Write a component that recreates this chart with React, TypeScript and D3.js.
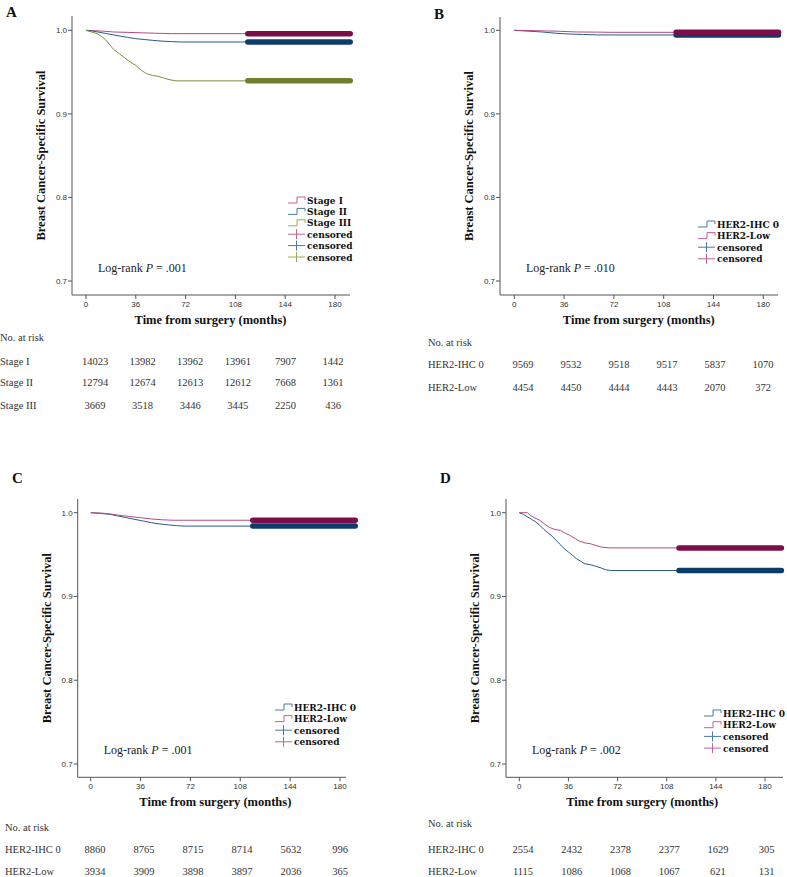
import React from "react";
import * as d3 from "d3";

// ---------- data ----------
const xTickMonths = [0, 36, 72, 108, 144, 180];
const yTickValues = [0.7, 0.8, 0.9, 1.0];

// Panel A: stage
const aStageI: [number, number][] = [[0, 1], [6, 0.9995], [12, 0.999], [20, 0.998], [30, 0.9975], [40, 0.997], [50, 0.9965], [62, 0.996], [191, 0.996]];
const aStageII: [number, number][] = [[0, 1], [5, 0.999], [10, 0.9975], [15, 0.996], [20, 0.9945], [25, 0.993], [30, 0.9915], [36, 0.99], [42, 0.989], [48, 0.988], [55, 0.987], [62, 0.9865], [68, 0.986], [191, 0.986]];
const aStageIII: [number, number][] = [[0, 1], [4, 0.998], [8, 0.996], [11, 0.993], [14, 0.989], [17, 0.983], [20, 0.977], [24, 0.972], [28, 0.967], [32, 0.962], [36, 0.958], [40, 0.952], [44, 0.948], [48, 0.946], [52, 0.945], [56, 0.943], [60, 0.941], [65, 0.9395], [191, 0.9395]];
const aRiskStageI = [14023, 13982, 13962, 13961, 7907, 1442];
const aRiskStageII = [12794, 12674, 12613, 12612, 7668, 1361];
const aRiskStageIII = [3669, 3518, 3446, 3445, 2250, 436];

// Panel B
const bIHC0: [number, number][] = [[0, 1], [10, 0.999], [20, 0.998], [30, 0.9965], [40, 0.9955], [50, 0.995], [60, 0.9945], [70, 0.9944], [191, 0.9944]];
const bLow: [number, number][] = [[0, 1], [15, 0.9995], [30, 0.999], [45, 0.998], [60, 0.9978], [70, 0.9976], [191, 0.9976]];
const bRiskIHC0 = [9569, 9532, 9518, 9517, 5837, 1070];
const bRiskLow = [4454, 4450, 4444, 4443, 2070, 372];

// Panel C
const cIHC0: [number, number][] = [[0, 1], [8, 0.999], [14, 0.998], [20, 0.996], [26, 0.994], [32, 0.992], [38, 0.99], [44, 0.988], [50, 0.9865], [56, 0.9855], [62, 0.9845], [68, 0.984], [191, 0.984]];
const cLow: [number, number][] = [[0, 1], [8, 0.9995], [14, 0.9985], [20, 0.997], [28, 0.9955], [36, 0.994], [44, 0.9925], [52, 0.9915], [60, 0.991], [191, 0.991]];
const cRiskIHC0 = [8860, 8765, 8715, 8714, 5632, 996];
const cRiskLow = [3934, 3909, 3898, 3897, 2036, 365];

// Panel D
const dIHC0: [number, number][] = [[0, 1], [3, 0.998], [6, 0.995], [9, 0.992], [12, 0.989], [15, 0.985], [18, 0.98], [21, 0.976], [24, 0.972], [27, 0.967], [30, 0.962], [33, 0.957], [36, 0.953], [39, 0.949], [42, 0.945], [45, 0.942], [48, 0.939], [52, 0.938], [56, 0.936], [60, 0.934], [63, 0.932], [67, 0.931], [192, 0.931]];
const dLow: [number, number][] = [[0, 1], [6, 1], [8, 0.997], [11, 0.994], [15, 0.991], [18, 0.987], [22, 0.9825], [26, 0.98], [30, 0.979], [33, 0.976], [37, 0.973], [41, 0.969], [44, 0.966], [48, 0.964], [52, 0.963], [56, 0.961], [60, 0.959], [66, 0.958], [192, 0.958]];
const dRiskIHC0 = [2554, 2432, 2378, 2377, 1629, 305];
const dRiskLow = [1115, 1086, 1068, 1067, 621, 131];

const censorStart = 117;

// ---------- styles ----------
const COL = {
  pink: { line: "#b54a80", band: "#7b0d4b", legend: "#c0609a" },
  blue: { line: "#2c5a8c", band: "#0b3c6a", legend: "#4a78a8" },
  green: { line: "#7d8f3a", band: "#6f7f2a", legend: "#9aaa55" },
};

type Series = { data: [number, number][]; color: keyof typeof COL };
type LegendItem = { label: string; color: keyof typeof COL; kind: "step" | "cens" };
type RiskRow = { label: string; values: number[] };

type PanelCfg = {
  letter: string;
  letterX: number;
  letterY: number;
  axisLeft: number;
  axisTop: number;
  axisBottom: number;
  axisRight: number;
  x0: number;
  x180: number;
  y1: number;
  y07: number;
  series: Series[];
  legend: LegendItem[];
  legendX: number;
  legendY: number;
  legendStep: number;
  pText: string;
  risk: RiskRow[];
  rowLabelX: number;
  colFirst: number;
  colLast: number;
  headerY: number;
  rowYs: number[];
};

const SERIF = "'Liberation Serif', 'Times New Roman', serif";
const LEG = "'DejaVu Serif', serif";
const SANS = "'Liberation Sans', Arial, sans-serif";

function Panel({ c }: { c: PanelCfg }) {
  const x = d3.scaleLinear().domain([0, 180]).range([c.x0, c.x180]);
  const y = d3.scaleLinear().domain([0.7, 1.0]).range([c.y07, c.y1]);
  const line = d3
    .line<[number, number]>()
    .x((d) => x(d[0]))
    .y((d) => y(d[1]))
    .curve(d3.curveLinear);
  const col = d3.scaleLinear().domain([0, 5]).range([c.colFirst, c.colLast]);
  const yMid = (c.axisTop + c.axisBottom) / 2;
  return (
    <g>
      <text x={c.letterX} y={c.letterY} fontFamily={SERIF} fontWeight="bold" fontSize={15} fill="#111">
        {c.letter}
      </text>
      {/* axes */}
      <line x1={c.axisLeft} x2={c.axisLeft} y1={c.axisTop} y2={c.axisBottom} stroke="#555" strokeWidth={1} />
      <line x1={c.axisLeft} x2={c.axisRight} y1={c.axisBottom} y2={c.axisBottom} stroke="#555" strokeWidth={1} />
      {yTickValues.map((v) => (
        <g key={v}>
          <line x1={c.axisLeft - 4} x2={c.axisLeft} y1={y(v)} y2={y(v)} stroke="#555" />
          <text x={c.axisLeft - 5} y={y(v) + 2.8} textAnchor="end" fontFamily={SANS} fontSize={8} fill="#333">
            {v.toFixed(1)}
          </text>
        </g>
      ))}
      {xTickMonths.map((m) => (
        <g key={m}>
          <line x1={x(m)} x2={x(m)} y1={c.axisBottom} y2={c.axisBottom + 4} stroke="#555" />
          <text x={x(m)} y={c.axisBottom + 12} textAnchor="middle" fontFamily={SANS} fontSize={8} fill="#333">
            {m}
          </text>
        </g>
      ))}
      <text
        transform={`translate(${c.axisLeft - 27},${yMid}) rotate(-90)`}
        textAnchor="middle"
        fontFamily={SERIF}
        fontWeight="bold"
        fontSize={12.5}
        fill="#111"
      >
        Breast Cancer-Specific Survival
      </text>
      <text x={x(90)} y={c.axisBottom + 29} textAnchor="middle" fontFamily={SERIF} fontWeight="bold" fontSize={12.5} fill="#111">
        Time from surgery (months)
      </text>
      {/* curves */}
      {c.series.map((s, i) => (
        <path key={"l" + i} d={line(s.data) || ""} fill="none" stroke={COL[s.color].line} strokeWidth={1} />
      ))}
      {c.series.map((s, i) => {
        const last = s.data[s.data.length - 1];
        return (
          <line
            key={"b" + i}
            x1={x(censorStart)}
            x2={x(last[0])}
            y1={y(last[1])}
            y2={y(last[1])}
            stroke={COL[s.color].band}
            strokeWidth={5.5}
            strokeLinecap="round"
          />
        );
      })}
      {/* legend */}
      {c.legend.map((it, i) => {
        const ly = c.legendY + i * c.legendStep;
        const lx = c.legendX;
        const clr = COL[it.color].legend;
        return (
          <g key={"g" + i}>
            {it.kind === "step" ? (
              <path d={`M${lx},${ly + 3} H${lx + 9} V${ly - 3} H${lx + 17} V${ly}`} fill="none" stroke={clr} strokeWidth={1} />
            ) : (
              <g>
                <line x1={lx} x2={lx + 17} y1={ly} y2={ly} stroke={clr} />
                <line x1={lx + 8.5} x2={lx + 8.5} y1={ly - 5} y2={ly + 5} stroke={clr} />
              </g>
            )}
            <text x={lx + 19} y={ly + 3.5} fontFamily={LEG} fontWeight="bold" fontSize={9} fill="#111">
              {it.label}
            </text>
          </g>
        );
      })}
      <text x={c.axisLeft + 26} y={c.axisBottom - 23} fontFamily={SERIF} fontSize={12} fill="#222">
        Log-rank <tspan fontStyle="italic">P</tspan> = {c.pText}
      </text>
      {/* risk table */}
      <text x={c.rowLabelX} y={c.headerY} fontFamily={SERIF} fontSize={10.5} fill="#333">
        No. at risk
      </text>
      {c.risk.map((r, ri) => (
        <g key={"r" + ri}>
          <text x={c.rowLabelX} y={c.rowYs[ri]} fontFamily={SERIF} fontSize={10.5} fill="#333">
            {r.label}
          </text>
          {r.values.map((v, vi) => (
            <text key={vi} x={col(vi)} y={c.rowYs[ri]} textAnchor="middle" fontFamily={SERIF} fontSize={10.5} fill="#333">
              {v}
            </text>
          ))}
        </g>
      ))}
    </g>
  );
}

const her2Legend: LegendItem[] = [
  { label: "HER2-IHC 0", color: "blue", kind: "step" },
  { label: "HER2-Low", color: "pink", kind: "step" },
  { label: "censored", color: "blue", kind: "cens" },
  { label: "censored", color: "pink", kind: "cens" },
];

const panels: PanelCfg[] = [
  {
    letter: "A", letterX: 6, letterY: 17,
    axisLeft: 72, axisTop: 16, axisBottom: 295, axisRight: 350,
    x0: 86, x180: 335, y1: 30.3, y07: 281,
    series: [
      { data: aStageI, color: "pink" },
      { data: aStageII, color: "blue" },
      { data: aStageIII, color: "green" },
    ],
    legend: [
      { label: "Stage I", color: "pink", kind: "step" },
      { label: "Stage II", color: "blue", kind: "step" },
      { label: "Stage III", color: "green", kind: "step" },
      { label: "censored", color: "pink", kind: "cens" },
      { label: "censored", color: "blue", kind: "cens" },
      { label: "censored", color: "green", kind: "cens" },
    ],
    legendX: 288, legendY: 200, legendStep: 11.4,
    pText: ".001",
    risk: [
      { label: "Stage I", values: aRiskStageI },
      { label: "Stage II", values: aRiskStageII },
      { label: "Stage III", values: aRiskStageIII },
    ],
    rowLabelX: 0, colFirst: 95, colLast: 333, headerY: 341, rowYs: [365, 386, 409],
  },
  {
    letter: "B", letterX: 434, letterY: 19,
    axisLeft: 500, axisTop: 17, axisBottom: 295, axisRight: 778,
    x0: 514.3, x180: 763.3, y1: 30.3, y07: 281,
    series: [
      { data: bIHC0, color: "blue" },
      { data: bLow, color: "pink" },
    ],
    legend: her2Legend,
    legendX: 698, legendY: 224, legendStep: 11.6,
    pText: ".010",
    risk: [
      { label: "HER2-IHC 0", values: bRiskIHC0 },
      { label: "HER2-Low", values: bRiskLow },
    ],
    rowLabelX: 428, colFirst: 523, colLast: 763, headerY: 346, rowYs: [368, 391],
  },
  {
    letter: "C", letterX: 12, letterY: 483,
    axisLeft: 77.7, axisTop: 499, axisBottom: 777.3, axisRight: 346,
    x0: 90.7, x180: 340, y1: 512.7, y07: 764,
    series: [
      { data: cIHC0, color: "blue" },
      { data: cLow, color: "pink" },
    ],
    legend: her2Legend,
    legendX: 275, legendY: 707, legendStep: 11.6,
    pText: ".001",
    risk: [
      { label: "HER2-IHC 0", values: cRiskIHC0 },
      { label: "HER2-Low", values: cRiskLow },
    ],
    rowLabelX: 5, colFirst: 95, colLast: 340, headerY: 830.5, rowYs: [853, 875],
  },
  {
    letter: "D", letterX: 440, letterY: 483,
    axisLeft: 506, axisTop: 499, axisBottom: 777.3, axisRight: 783,
    x0: 519.3, x180: 765, y1: 512.7, y07: 764,
    series: [
      { data: dIHC0, color: "blue" },
      { data: dLow, color: "pink" },
    ],
    legend: her2Legend,
    legendX: 704, legendY: 713, legendStep: 11.7,
    pText: ".002",
    risk: [
      { label: "HER2-IHC 0", values: dRiskIHC0 },
      { label: "HER2-Low", values: dRiskLow },
    ],
    rowLabelX: 428, colFirst: 523, colLast: 766.7, headerY: 827, rowYs: [853, 875],
  },
];

export default function App() {
  return (
    <div style={{ position: "absolute", left: 0, top: 0, width: 787, height: 877, background: "#fff" }}>
      <svg width={787} height={877} viewBox="0 0 787 877" style={{ display: "block" }}>
        <rect width={787} height={877} fill="#fff" />
        {panels.map((p) => (
          <Panel key={p.letter} c={p} />
        ))}
      </svg>
    </div>
  );
}
